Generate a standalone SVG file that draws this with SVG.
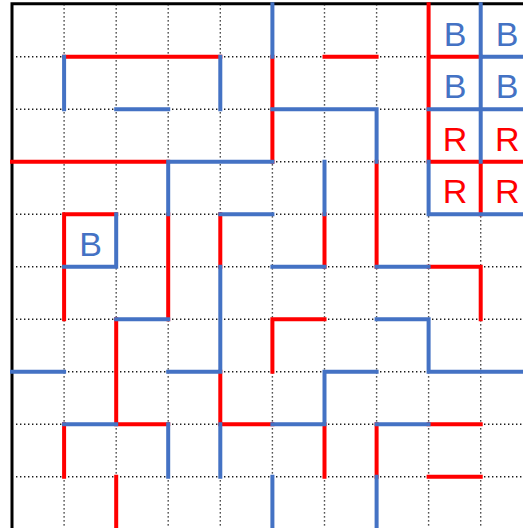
<svg xmlns="http://www.w3.org/2000/svg" width="523" height="528" viewBox="0 0 523 528">
<style>
.dot{stroke:#1a1a1a;stroke-width:1.4;stroke-dasharray:1.4 2.6;fill:none}
.r{stroke:#FF0000;stroke-width:4;stroke-linecap:square;fill:none}
.b{stroke:#4472C4;stroke-width:4;stroke-linecap:square;fill:none}
.lb{font-family:"Liberation Sans",Arial,sans-serif;font-size:34px;text-anchor:middle;fill:#4472C4}
.lr{font-family:"Liberation Sans",Arial,sans-serif;font-size:34px;text-anchor:middle;fill:#FF0000}
</style>
<rect width="523" height="528" fill="#ffffff"/>
<g id="grid">
<path class="dot" d="M64.1 4.2V528M116.2 4.2V528M168.2 4.2V528M220.3 4.2V528M272.4 4.2V528M324.5 4.2V528M376.6 4.2V528M428.6 4.2V528M480.7 4.2V528"/>
<path class="dot" d="M16 56.7H523M16 109.2H523M16 161.7H523M16 214.2H523M16 266.7H523M16 319.2H523M16 371.7H523M16 424.2H523M16 476.7H523"/>
</g>
<g id="border">
<path d="M12 530V3.7H523" stroke="#000" stroke-width="3" fill="none"/>
</g>
<g id="connectors">
<path class="r" d="M64.1 56.7H220.3M272.4 56.7V161.7M324.5 56.7H376.6M428.6 4.2V161.7M428.6 56.7H480.7M12 161.7H168.2M428.6 161.7H530M376.6 161.7V266.7M480.7 161.7V214.2M64.1 214.2H116.2M64.1 214.2V319.2M168.2 214.2V319.2M220.3 214.2V266.7M324.5 214.2V266.7M428.6 266.7H480.7M480.7 266.7V319.2M272.4 319.2H324.5M272.4 319.2V371.7M116.2 319.2V424.2M220.3 371.7V424.2M116.2 424.2H168.2M220.3 424.2H272.4M64.1 424.2V476.7M324.5 424.2V476.7M376.6 424.2V476.7M428.6 424.2H480.7M428.6 476.7H480.7M116.2 476.7V530"/>
<path class="b" d="M272.4 4.2V56.7M480.7 4.2V161.7M480.7 56.7H530M64.1 56.7V109.2M220.3 56.7V109.2M116.2 109.2H168.2M272.4 109.2H376.6M376.6 109.2V161.7M428.6 109.2H530M168.2 161.7H272.4M168.2 161.7V214.2M324.5 161.7V214.2M428.6 161.7V214.2M428.6 214.2H530M220.3 214.2H272.4M116.2 214.2V266.7M64.1 266.7H116.2M272.4 266.7H324.5M376.6 266.7H428.6M220.3 266.7V371.7M116.2 319.2H168.2M376.6 319.2H428.6M428.6 319.2V371.7M12 371.7H64.1M168.2 371.7H220.3M324.5 371.7H376.6M324.5 371.7V424.2M428.6 371.7H530M64.1 424.2H116.2M272.4 424.2H324.5M376.6 424.2H428.6M168.2 424.2V476.7M220.3 424.2V476.7M272.4 476.7V530M376.6 476.7V530"/>
</g>
<g id="cell-8-0"><text class="lb" x="455" y="45.5">B</text></g>
<g id="cell-9-0"><text class="lb" x="507.2" y="45.5">B</text></g>
<g id="cell-8-1"><text class="lb" x="455" y="98">B</text></g>
<g id="cell-9-1"><text class="lb" x="507.2" y="98">B</text></g>
<g id="cell-8-2"><text class="lr" x="455" y="150.5">R</text></g>
<g id="cell-9-2"><text class="lr" x="507.2" y="150.5">R</text></g>
<g id="cell-8-3"><text class="lr" x="455" y="203">R</text></g>
<g id="cell-9-3"><text class="lr" x="507.2" y="203">R</text></g>
<g id="cell-1-4"><text class="lb" x="90.5" y="255.7">B</text></g>
</svg>
